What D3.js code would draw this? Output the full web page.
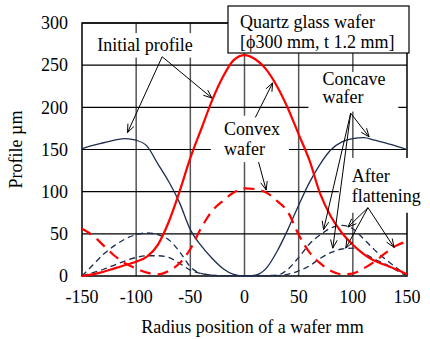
<!DOCTYPE html>
<html>
<head>
<meta charset="utf-8">
<script src="https://cdnjs.cloudflare.com/ajax/libs/d3/7.8.5/d3.min.js"></script>
<style>
  body { margin: 0; background: #fff; }
  svg text { font-family: "Liberation Serif", "Times New Roman", serif; fill: #000; }
</style>
</head>
<body>
<svg id="chart" width="430" height="339"></svg>
<script>
// radius positions (mm)
const radius = [-150, -140, -130, -120, -110, -100, -90, -80, -70, -60, -50, -40, -30, -20, -10,
  0, 10, 20, 30, 40, 50, 60, 70, 80, 90, 100, 110, 120, 130, 140, 150];

// profiles (µm)
const convexInitial = [0, 2, 5, 9, 13, 17, 23, 37, 64, 100, 140, 174, 208, 236, 256,
  262, 257, 245, 225, 199, 168, 137, 97, 70, 51, 37, 26, 18, 13, 8, 2];
const convexAfter = [56, 48, 36, 24, 15, 9, 4, 2, 6, 15, 32, 57, 77, 89, 99,
  104, 103, 99, 89, 76, 49, 28, 15, 6, 2, 3, 9, 17, 27, 36, 41];
const concaveInitial = [151, 155, 158, 161, 163, 161, 154, 133, 112, 87, 55, 36, 21, 9, 2,
  0, 1, 9, 29, 55, 84, 111, 133, 150, 159, 163, 164, 161, 158, 154, 150];
const concaveAfterA = [0, 13, 26, 36, 44, 49, 51, 49, 43, 29, 11, 3, 1, 0.5, 0.5,
  0.5, 0.5, 0.5, 1, 8, 22, 38, 49, 57, 60, 56, 44, 31, 20, 10, 0];
const concaveAfterB = [0, 4, 8, 13, 18, 22, 24, 24, 22, 15, 7, 3, 1, 0.5, 0.5,
  0.5, 0.5, 0.5, 0.5, 2, 6, 12, 21, 28, 32, 33, 27, 20, 14, 7, 0];

const xTicks = [-150, -100, -50, 0, 50, 100, 150];
const yTicks = [0, 50, 100, 150, 200, 250, 300];

const navy = "#1b2c4e";
const red = "#ff0000";

const margin = { top: 23, right: 23, bottom: 63, left: 82 };
const width = 430, height = 339;
const svg = d3.select("#chart");

const x = d3.scaleLinear([-150, 150], [margin.left, width - margin.right]);
const y = d3.scaleLinear([0, 300], [height - margin.bottom, margin.top]);

// grid
const grid = svg.append("g");
grid.selectAll("line.v")
  .data(xTicks.slice(1, -1))
  .enter().append("line")
  .attr("x1", d => x(d)).attr("x2", d => x(d))
  .attr("y1", y(0)).attr("y2", y(300))
  .attr("stroke", "#555").attr("stroke-width", 1.5);
grid.selectAll("line.h")
  .data(yTicks.slice(1))
  .enter().append("line")
  .attr("x1", x(-150)).attr("x2", x(150))
  .attr("y1", d => y(d)).attr("y2", d => y(d))
  .attr("stroke", "#000").attr("stroke-width", 1.2);

// frame
svg.append("rect")
  .attr("x", x(-150)).attr("y", y(300))
  .attr("width", x(150) - x(-150)).attr("height", y(0) - y(300))
  .attr("fill", "none").attr("stroke", "#000").attr("stroke-width", 1.5);

// curves
const line = d3.line().curve(d3.curveMonotoneX);
const series = [
  { v: concaveInitial, color: navy, w: 1.3, dash: null },
  { v: concaveAfterA, color: navy, w: 1.3, dash: "6,4" },
  { v: concaveAfterB, color: navy, w: 1.3, dash: "6,4" },
  { v: convexAfter, color: red, w: 2.2, dash: "11,7" },
  { v: convexInitial, color: red, w: 2.2, dash: null }
];
series.forEach(s => {
  svg.append("path")
    .attr("d", line(radius.map((r, i) => [x(r), y(s.v[i])])))
    .attr("fill", "none")
    .attr("stroke", s.color)
    .attr("stroke-width", s.w)
    .attr("stroke-dasharray", s.dash);
});

// axes labels
svg.append("g").selectAll("text")
  .data(yTicks).enter().append("text")
  .attr("x", margin.left - 14).attr("y", d => y(d)).attr("dy", "0.35em")
  .attr("text-anchor", "end").attr("font-size", 18)
  .text(d => d);
svg.append("g").selectAll("text")
  .data(xTicks).enter().append("text")
  .attr("x", d => x(d)).attr("y", y(0) + 27)
  .attr("text-anchor", "middle").attr("font-size", 18)
  .text(d => d);
svg.append("text")
  .attr("x", (x(-150) + x(150)) / 2 + 8).attr("y", 333)
  .attr("text-anchor", "middle").attr("font-size", 18)
  .text("Radius position of a wafer mm");
svg.append("text")
  .attr("transform", `translate(22,${(y(0) + y(300)) / 2}) rotate(-90)`)
  .attr("text-anchor", "middle").attr("font-size", 18)
  .text("Profile µm");

// white label backgrounds (data coords)
const boxes = [
  { x0: -138, x1: -46, y0: 288, y1: 259 },
  { x0: -31, x1: 41, y0: 190, y1: 135 },
  { x0: 59, x1: 142, y0: 242, y1: 195 },
  { x0: 87, x1: 165, y0: 140, y1: 75 }
];
svg.append("g").selectAll("rect")
  .data(boxes).enter().append("rect")
  .attr("x", d => x(d.x0)).attr("y", d => y(d.y0))
  .attr("width", d => x(d.x1) - x(d.x0)).attr("height", d => y(d.y1) - y(d.y0))
  .attr("fill", "#fff");

// labels
const labels = [
  { x: -136, y: 267, t: "Initial profile" },
  { x: -19, y: 167, t: "Convex" },
  { x: -19, y: 143, t: "wafer" },
  { x: 72, y: 227, t: "Concave" },
  { x: 72, y: 205, t: "wafer" },
  { x: 99, y: 111, t: "After" },
  { x: 99, y: 88, t: "flattening" }
];
svg.append("g").selectAll("text")
  .data(labels).enter().append("text")
  .attr("x", d => x(d.x)).attr("y", d => y(d.y))
  .attr("font-size", 18)
  .text(d => d.t);

// arrows [from, to] in data coords
const arrows = [
  [[-76, 260], [-108, 170]], [[-76, 260], [-30, 211]],
  [[10, 188], [26, 229]], [[13, 135], [20, 102]],
  [[98, 193], [115, 165]], [[98, 193], [73, 55]], [[98, 193], [81.5, 33]],
  [[114, 81], [95.5, 58]], [[114, 81], [93.5, 33]], [[114, 81], [138, 34]]
];
const ag = svg.append("g").attr("stroke", "#000").attr("stroke-width", 1).attr("fill", "none");
arrows.forEach(([a, b]) => {
  const x1 = x(a[0]), y1 = y(a[1]), x2 = x(b[0]), y2 = y(b[1]);
  const ang = Math.atan2(y2 - y1, x2 - x1);
  const h = 9, spread = 0.38;
  ag.append("line").attr("x1", x1).attr("y1", y1).attr("x2", x2).attr("y2", y2);
  ag.append("polyline").attr("points", [
    [x2 - h * Math.cos(ang - spread), y2 - h * Math.sin(ang - spread)],
    [x2, y2],
    [x2 - h * Math.cos(ang + spread), y2 - h * Math.sin(ang + spread)]
  ].map(p => p.join(",")).join(" "));
});

// legend box
const lg = svg.append("g");
lg.append("rect")
  .attr("x", 228).attr("y", 6).attr("width", 181).attr("height", 47)
  .attr("fill", "#fff").attr("stroke", "#000").attr("stroke-width", 1.2);
lg.append("text").attr("x", 240).attr("y", 28).attr("font-size", 18).text("Quartz glass wafer");
lg.append("text").attr("x", 240).attr("y", 48).attr("font-size", 18).text("[ϕ300 mm, t 1.2 mm]");
</script>
</body>
</html>
